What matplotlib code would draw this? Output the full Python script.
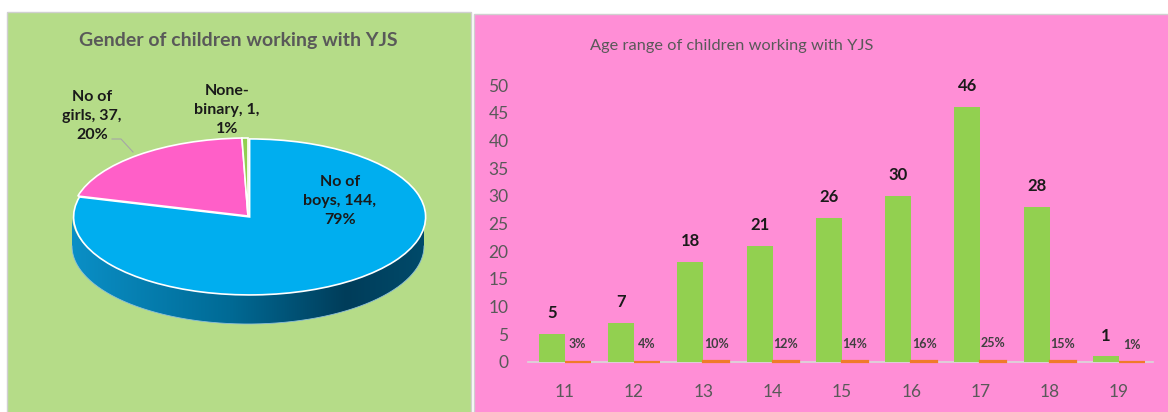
import numpy as np
import matplotlib
matplotlib.use("Agg")
from matplotlib import pyplot as plt
from matplotlib.patches import Rectangle, Polygon
from matplotlib.colors import LinearSegmentedColormap
from matplotlib.transforms import Affine2D

plt.rcParams['font.family'] = ['Lato', 'DejaVu Sans']

# Gender data
gender_labels = ["No of\nboys, 144,\n79%", "No of\ngirls, 37,\n20%", "None-\nbinary, 1,\n1%"]
gender_counts = [144, 37, 1]
gender_colors = ["#00aeef", "#ff5fc8", "#92d050"]

# Age data
ages = ["11", "12", "13", "14", "15", "16", "17", "18", "19"]
age_counts = [5, 7, 18, 21, 26, 30, 46, 28, 1]
age_pct = [0.03, 0.04, 0.10, 0.12, 0.14, 0.16, 0.25, 0.15, 0.01]
age_pct_labels = ["3%", "4%", "10%", "12%", "14%", "16%", "25%", "15%", "1%"]

W, H = 1168, 412
fig = plt.figure(figsize=(W / 100, H / 100), dpi=100)
fig.patch.set_facecolor("white")

# background axes in pixel coordinates (y down)
bg = fig.add_axes([0, 0, 1, 1])
bg.set_xlim(0, W)
bg.set_ylim(H, 0)
bg.axis("off")

bg.add_patch(Rectangle((7, 12), 464, 402, facecolor="#b5dc88", edgecolor="#d0d0d0", lw=1))
bg.add_patch(Rectangle((474, 14), 700, 402, facecolor="#ff8ed6", edgecolor="#d0d0d0", lw=1))

bg.text(238, 40, "Gender of children working with YJS", ha="center", va="center",
        fontsize=14, fontweight="bold", color="#595959")
bg.text(732, 46, "Age range of children working with YJS", ha="center", va="center",
        fontsize=11.8, color="#595959")

# --- 3D-looking pie ---
cx, cy, rx, ry, depth = 248, 216, 176, 78, 30

# side of the pie (front half), gradient fill
theta = np.linspace(np.pi, 2 * np.pi, 200)
top_x = cx + rx * np.cos(theta)
top_y = cy - ry * np.sin(theta)
side = np.concatenate([np.column_stack([top_x, top_y]),
                       np.column_stack([top_x[::-1], top_y[::-1] + depth])])
side_poly = Polygon(side, closed=True, facecolor="none", edgecolor="none")
bg.add_patch(side_poly)
side_cmap = LinearSegmentedColormap.from_list(
    "side", [(0.0, "#0a8fc6"), (0.45, "#006a95"), (0.78, "#003d5a"), (1.0, "#004a6a")])
grad = np.linspace(0, 1, 256).reshape(1, -1)
im = bg.imshow(grad, cmap=side_cmap, aspect="auto",
               extent=(cx - rx, cx + rx, cy + ry + depth + 2, cy - 5), zorder=2)
im.set_clip_path(side_poly)
bg.plot(top_x, top_y + depth, color="#8fc0d8", lw=0.6, zorder=3)

wedges, _ = bg.pie(gender_counts, colors=gender_colors, startangle=90, counterclock=False,
                   explode=[0.015, 0, 0], radius=1,
                   wedgeprops=dict(edgecolor="white", linewidth=1.2))
pie_tf = Affine2D().scale(rx, -ry).translate(cx, cy) + bg.transData
for w in wedges:
    w.set_transform(pie_tf)
    w.set_zorder(4)
bg.set_aspect("auto")
bg.set_xlim(0, W)
bg.set_ylim(H, 0)
bg.axis("off")

lbl_kw = dict(ha="center", va="center", fontsize=11.5, fontweight="bold",
              color="#1a1a1a", linespacing=1.45, zorder=6)
bg.text(340, 201, gender_labels[0], **lbl_kw)
bg.text(92, 116, gender_labels[1], **lbl_kw)
bg.text(227, 110, gender_labels[2], **lbl_kw)
bg.plot([112, 121, 133], [139, 139, 152], color="#a6a6a6", lw=0.8, zorder=5)

# --- bar chart ---
ax = fig.add_axes([528 / W, (H - 362) / H, 625 / W, 277 / H])
ax.set_facecolor("none")
x = np.arange(len(ages))
bw = 0.375
ax.bar(x - bw / 2, age_counts, width=bw, color="#92d050", zorder=2)
ax.bar(x + bw / 2, age_pct, width=bw, color="#f07a2a", edgecolor="#f07a2a", lw=1.6,
       zorder=4, clip_on=False)

for xi, c in zip(x, age_counts):
    ax.annotate(str(c), (xi - bw / 2, c), xytext=(0, 15), textcoords="offset points",
                ha="center", va="center", fontsize=12, fontweight="bold", color="#1a1a1a")
for xi, p, t in zip(x, age_pct, age_pct_labels):
    ax.annotate(t, (xi + bw / 2, p), xytext=(0, 12.5), textcoords="offset points",
                ha="center", va="center", fontsize=9, fontweight="bold", color="#404040")

ax.set_xlim(-0.53, 8.49)
ax.set_ylim(0, 50)
ax.set_yticks(range(0, 51, 5))
ax.set_xticks(x)
ax.set_xticklabels(ages)
ax.tick_params(axis="both", length=0, labelsize=12.5, labelcolor="#595959")
ax.tick_params(axis="y", pad=14)
ax.tick_params(axis="x", pad=16)
for s in ["top", "right", "left"]:
    ax.spines[s].set_visible(False)
ax.spines["bottom"].set_color("#d9d9d9")
ax.spines["bottom"].set_linewidth(1.2)
ax.spines["bottom"].set_zorder(1)

fig.savefig("out.png", dpi=100)
